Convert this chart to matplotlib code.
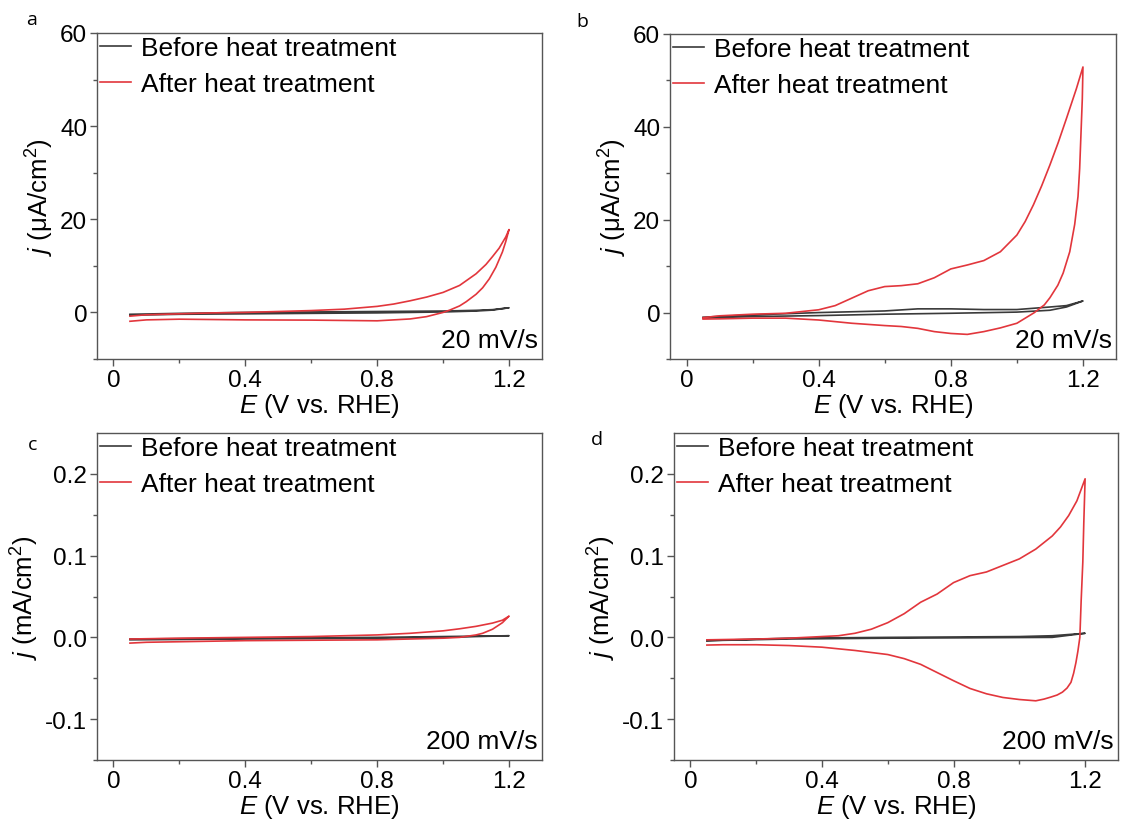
import matplotlib
matplotlib.use("Agg")
import matplotlib.pyplot as plt
from matplotlib.ticker import MultipleLocator, FixedLocator, FormatStrFormatter
import numpy as np

plt.rcParams['font.family'] = ['Liberation Sans', 'DejaVu Sans']
plt.rcParams['mathtext.fontset'] = 'custom'
plt.rcParams['mathtext.rm'] = 'Liberation Sans'
plt.rcParams['mathtext.it'] = 'Liberation Sans:italic'
plt.rcParams['axes.unicode_minus'] = False

# ---------------- Data ----------------
# Panel a (20 mV/s, uA/cm2)
a_red_fwd_E = [0.05, 0.1, 0.2, 0.3, 0.4, 0.5, 0.6, 0.7, 0.8, 0.85, 0.9, 0.95, 1.0, 1.05,
               1.1, 1.13, 1.15, 1.17, 1.19, 1.2]
a_red_fwd_j = [-0.8, -0.5, -0.3, -0.1, 0.0, 0.2, 0.4, 0.7, 1.3, 1.8, 2.5, 3.3, 4.3, 5.8,
               8.3, 10.3, 12.0, 13.8, 16.2, 17.8]
a_red_rev_E = [1.2, 1.19, 1.18, 1.16, 1.14, 1.12, 1.1, 1.07, 1.05, 1.02, 1.0, 0.95, 0.9,
               0.8, 0.6, 0.4, 0.2, 0.1, 0.05]
a_red_rev_j = [17.8, 15.2, 13.0, 9.7, 7.2, 5.3, 3.9, 2.3, 1.4, 0.5, 0.0, -0.9, -1.4,
               -1.8, -1.65, -1.6, -1.45, -1.6, -1.9]
a_blk_fwd_E = [0.05, 0.2, 0.4, 0.6, 0.8, 1.0, 1.1, 1.15, 1.2]
a_blk_fwd_j = [-0.4, -0.2, 0.0, 0.1, 0.2, 0.3, 0.45, 0.6, 1.0]
a_blk_rev_E = [1.2, 1.15, 1.1, 1.0, 0.8, 0.6, 0.4, 0.2, 0.05]
a_blk_rev_j = [1.0, 0.5, 0.3, 0.1, -0.1, -0.2, -0.3, -0.4, -0.6]

# Panel b (20 mV/s, uA/cm2)
b_red_fwd_E = [0.05, 0.1, 0.2, 0.3, 0.4, 0.45, 0.5, 0.55, 0.6, 0.65, 0.7, 0.75, 0.8, 0.85,
               0.9, 0.95, 1.0, 1.025, 1.05, 1.075, 1.1, 1.125, 1.15, 1.18, 1.2]
b_red_fwd_j = [-1.1, -0.7, -0.35, -0.15, 0.6, 1.5, 3.1, 4.7, 5.6, 5.8, 6.2, 7.5, 9.4, 10.25,
               11.2, 13.1, 16.7, 19.6, 23.2, 27.3, 31.8, 36.6, 41.8, 48.2, 52.9]
b_red_rev_E = [1.2, 1.198, 1.195, 1.19, 1.185, 1.175, 1.16, 1.14, 1.124, 1.1, 1.083, 1.053,
               1.0, 0.95, 0.9, 0.85, 0.8, 0.75, 0.7, 0.65, 0.6, 0.5, 0.4, 0.3, 0.2, 0.1, 0.05]
b_red_rev_j = [52.9, 46.0, 40.4, 31.0, 25.0, 19.0, 13.1, 8.5, 5.9, 3.2, 1.65, 0.0,
               -2.3, -3.3, -4.1, -4.7, -4.5, -4.1, -3.4, -3.0, -2.8, -2.3, -1.6, -1.2, -1.2, -1.35, -1.4]
b_blk_fwd_E = [0.05, 0.2, 0.4, 0.6, 0.7, 0.8, 0.9, 1.0, 1.1, 1.15, 1.2]
b_blk_fwd_j = [-1.0, -0.5, 0.0, 0.35, 0.8, 0.8, 0.65, 0.65, 1.2, 1.5, 2.5]
b_blk_rev_E = [1.2, 1.15, 1.1, 1.0, 0.8, 0.6, 0.4, 0.2, 0.05]
b_blk_rev_j = [2.5, 1.2, 0.5, 0.1, -0.15, -0.35, -0.65, -0.85, -1.2]

# Panel c (200 mV/s, mA/cm2)
c_red_fwd_E = [0.05, 0.2, 0.4, 0.6, 0.8, 0.9, 1.0, 1.05, 1.1, 1.15, 1.18, 1.2]
c_red_fwd_j = [-0.002, -0.001, 0.0, 0.001, 0.003, 0.005, 0.008, 0.0105, 0.0135, 0.0175, 0.021, 0.026]
c_red_rev_E = [1.2, 1.19, 1.18, 1.15, 1.12, 1.1, 1.05, 1.0, 0.8, 0.4, 0.1, 0.05]
c_red_rev_j = [0.026, 0.022, 0.018, 0.010, 0.005, 0.003, 0.0, -0.001, -0.003, -0.004, -0.006, -0.007]
c_blk_fwd_E = [0.05, 0.4, 0.8, 1.0, 1.2]
c_blk_fwd_j = [-0.002, -0.001, 0.0, 0.001, 0.002]
c_blk_rev_E = [1.2, 1.0, 0.8, 0.4, 0.05]
c_blk_rev_j = [0.002, 0.0, -0.001, -0.002, -0.003]

# Panel d (200 mV/s, mA/cm2)
d_red_fwd_E = [0.05, 0.2, 0.3, 0.4, 0.45, 0.5, 0.55, 0.6, 0.65, 0.7, 0.75, 0.8, 0.85,
               0.9, 0.95, 1.0, 1.05, 1.1, 1.125, 1.15, 1.175, 1.2]
d_red_fwd_j = [-0.003, -0.002, -0.001, 0.001, 0.002, 0.005, 0.010, 0.018, 0.029, 0.043,
               0.053, 0.067, 0.0755, 0.080, 0.088, 0.096, 0.108, 0.124, 0.135, 0.149, 0.167, 0.194]
d_red_rev_E = [1.2, 1.196, 1.193, 1.188, 1.184, 1.178, 1.172, 1.165, 1.157, 1.145, 1.131,
               1.115, 1.096, 1.075, 1.05, 1.0, 0.95, 0.9, 0.85,
               0.8, 0.75, 0.7, 0.65, 0.6, 0.5, 0.4, 0.3, 0.2, 0.1, 0.05]
d_red_rev_j = [0.194, 0.14, 0.092, 0.045, 0.0, -0.017, -0.031, -0.044, -0.055, -0.062, -0.067,
               -0.0705, -0.073, -0.0755, -0.0776, -0.076, -0.0735,
               -0.069, -0.0625, -0.053, -0.043, -0.033, -0.026, -0.021, -0.016, -0.012,
               -0.010, -0.009, -0.009, -0.0094]
d_blk_fwd_E = [0.05, 0.3, 0.6, 1.0, 1.1, 1.2]
d_blk_fwd_j = [-0.004, -0.001, 0.0, 0.001, 0.002, 0.005]
d_blk_rev_E = [1.2, 1.1, 0.6, 0.3, 0.05]
d_blk_rev_j = [0.005, 0.0, -0.001, -0.002, -0.004]

legend_labels = ["Before heat treatment", "After heat treatment"]
scan_rates = ["20 mV/s", "20 mV/s", "200 mV/s", "200 mV/s"]
panel_letters = ["a", "b", "c", "d"]
x_ticks = [0, 0.4, 0.8, 1.2]
x_ticklabels = ["0", "0.4", "0.8", "1.2"]

BLACK = "#3a3a3a"
RED = "#e2363c"
SPINE = "#555555"

W, H = 1121, 828
fig = plt.figure(figsize=(W / 100, H / 100), dpi=100)

def frac(x0, y0, x1, y1):
    return [x0 / W, 1 - y1 / H, (x1 - x0) / W, (y1 - y0) / H]

rects = [frac(97, 34, 542, 360), frac(670, 35, 1116, 360),
         frac(97, 434, 542, 761), frac(674, 434, 1118, 761)]
letter_pos = [(32, 20), (582, 22), (33, 445), (597, 440)]

data = [
    (a_blk_fwd_E + a_blk_rev_E, a_blk_fwd_j + a_blk_rev_j, a_red_fwd_E + a_red_rev_E, a_red_fwd_j + a_red_rev_j),
    (b_blk_fwd_E + b_blk_rev_E, b_blk_fwd_j + b_blk_rev_j, b_red_fwd_E + b_red_rev_E, b_red_fwd_j + b_red_rev_j),
    (c_blk_fwd_E + c_blk_rev_E, c_blk_fwd_j + c_blk_rev_j, c_red_fwd_E + c_red_rev_E, c_red_fwd_j + c_red_rev_j),
    (d_blk_fwd_E + d_blk_rev_E, d_blk_fwd_j + d_blk_rev_j, d_red_fwd_E + d_red_rev_E, d_red_fwd_j + d_red_rev_j),
]

TICK_FS = 17.5
LAB_FS = 18.5
LEG_FS = 19
for i, (rect, (bE, bj, rE, rj)) in enumerate(zip(rects, data)):
    ax = fig.add_axes(rect)
    ax.plot(bE, bj, color=BLACK, lw=1.2, label=legend_labels[0])
    ax.plot(rE, rj, color=RED, lw=1.2, label=legend_labels[1])
    ax.set_xlim(-0.05, 1.3)
    ax.xaxis.set_major_locator(FixedLocator(x_ticks))
    ax.set_xticklabels(x_ticklabels)
    ax.xaxis.set_minor_locator(FixedLocator([0.2, 0.6, 1.0]))
    if i < 2:
        ax.set_ylim(-10, 60)
        ax.yaxis.set_major_locator(MultipleLocator(20))
        ax.yaxis.set_minor_locator(MultipleLocator(10))
        ax.set_ylabel("$j$ (μA/cm$^2$)", fontsize=LAB_FS, labelpad=3)
    else:
        ax.set_ylim(-0.15, 0.25)
        ax.yaxis.set_major_locator(FixedLocator([-0.1, 0.0, 0.1, 0.2]))
        ax.yaxis.set_major_formatter(FormatStrFormatter('%.1f'))
        ax.yaxis.set_minor_locator(FixedLocator([-0.15, -0.05, 0.05, 0.15]))
        ax.set_ylabel("$j$ (mA/cm$^2$)", fontsize=LAB_FS, labelpad=3)
    ax.set_xlabel("$E$ (V vs. RHE)", fontsize=LAB_FS, labelpad=0)
    ax.tick_params(which='major', direction='out', length=5, width=1, labelsize=TICK_FS,
                   pad=2, color=SPINE, top=False, right=False)
    ax.tick_params(which='minor', direction='out', length=3, width=1, color=SPINE,
                   top=False, right=False)
    for s in ax.spines.values():
        s.set_color(SPINE)
        s.set_linewidth(1)
    ax.legend(loc='upper left', frameon=False, fontsize=LEG_FS, handlelength=1.2,
              handletextpad=0.35, labelspacing=0.45, borderaxespad=0.0, borderpad=0.0,
              bbox_to_anchor=(0.006, 0.99))
    ax.text(0.99, 0.02, scan_rates[i], transform=ax.transAxes, ha='right', va='bottom',
            fontsize=LEG_FS)
    lx, ly = letter_pos[i]
    fig.text(lx / W, 1 - ly / H, panel_letters[i], fontsize=14, ha='center', va='center',
             family=['Open Sans', 'DejaVu Sans'])

fig.savefig("out.png", dpi=100)
